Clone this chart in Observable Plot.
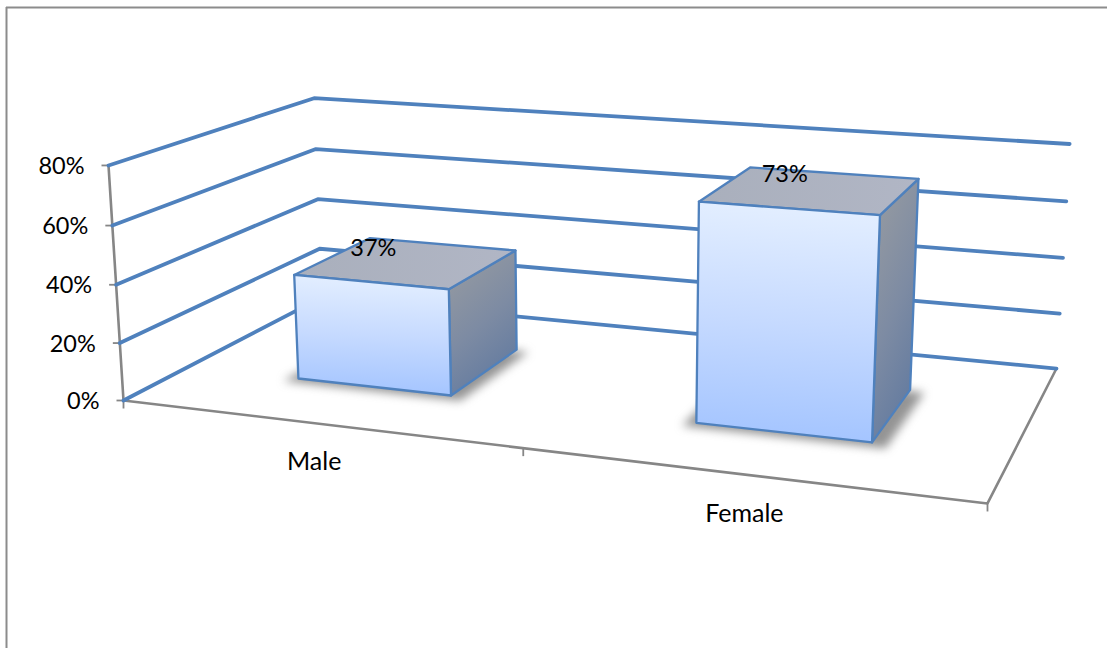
<!DOCTYPE html>
<html>
<head>
<meta charset="utf-8">
<script src="https://cdn.jsdelivr.net/npm/d3@7"></script>
<script src="https://cdn.jsdelivr.net/npm/@observablehq/plot@0.6"></script>
<style>
  html, body { margin: 0; padding: 0; background: #fff; overflow: hidden; }
  svg { display: block; }
  .floor-shadow { filter: blur(5px); }
</style>
</head>
<body>
<div id="chart"></div>
<script>
// Chart values
const categories = ["Male", "Female"];
const shares = [37, 73];
const shareTicks = [0, 20, 40, 60, 80];

// Drawing colours
const gridBlue = "#4f81bd";
const axisGrey = "#868686";
const frameGrey = "#8c8c8c";

// Box footprint on the floor: each category fills half the width, the box 40% of that
const boxHalfWidth = 0.1;
const boxNear = 0.295;
const boxFar = 0.705;
const shareMax = d3.max(shareTicks);

// Perspective camera. u runs along the categories, d into the chart, v up the value axis (0 to 1).
function project(u, d, value) {
  const v = value / shareMax;
  const w = -0.1389 * u + 0.18855 * d - 0.03 * v + 1;
  return [
    (726.9 * u + 258.5 * d - 18.24 * v + 123) / w,
    (33.1 * u - 46.8 * d - 240 * v + 400) / w
  ];
}

// Builds one closed or open outline as rows for a line mark
function outline(key, corners) {
  return corners.map(([u, d, value]) => {
    const [x, y] = project(u, d, value);
    return {key, x, y};
  });
}

// Back-wall gridlines: from the value axis, to the back corner, to the right edge
const gridRows = shareTicks.flatMap((t) =>
  outline(`grid${t}`, [[0, 0, t], [0, 1, t], [1, 1, t]])
);

const axisRows = [
  ...outline("value", [[0, 0, 0], [0, 0, shareMax]]),
  ...outline("floor", [[0, 0, 0], [1, 0, 0], [1, 1, 0]])
];

// Tick marks on the value axis and the category axis
const valueTicks = shareTicks.map((t) => {
  const [x, y] = project(0, 0, t);
  return {t, x, y};
});
const categoryTicks = [0, 0.5, 1].map((u) => {
  const [x, y] = project(u, 0, 0);
  return {x, y};
});

// Faces of each box
const boxes = categories.map((name, i) => {
  const u0 = (i + 0.5) / categories.length - boxHalfWidth;
  const u1 = (i + 0.5) / categories.length + boxHalfWidth;
  const h = shares[i];
  return {name, h, u0, u1};
});
const ring = (pts) => [...pts, pts[0]];
const frontRows = boxes.flatMap(({name, h, u0, u1}) =>
  outline(name, ring([[u0, boxNear, h], [u1, boxNear, h], [u1, boxNear, 0], [u0, boxNear, 0]]))
);
const topRows = boxes.flatMap(({name, h, u0, u1}) =>
  outline(name, ring([[u0, boxNear, h], [u1, boxNear, h], [u1, boxFar, h], [u0, boxFar, h]]))
);
const sideRows = boxes.flatMap(({name, h, u1}) =>
  outline(name, ring([[u1, boxNear, h], [u1, boxFar, h], [u1, boxFar, 0], [u1, boxNear, 0]]))
);
const shadowRows = boxes.flatMap(({name, u0, u1}) =>
  outline(name, ring([
    [u0 - 0.012, boxNear - 0.03, 0],
    [u1 + 0.018, boxNear - 0.03, 0],
    [u1 + 0.018, boxFar - 0.01, 0],
    [u0 - 0.012, boxFar - 0.01, 0]
  ]))
);

// Label anchors; share labels sit slightly toward the middle of the chart
const shareLabels = boxes.map(({h, u0, u1}) => {
  const centre = (u0 + u1) / 2;
  const [x, y] = project(0.5 + (centre - 0.5) * 0.985, boxNear, h);
  return {text: `${h}%`, x, y: y - 34};
});
const categoryLabels = boxes.map(({name, u0, u1}) => {
  const [x, y] = project((u0 + u1) / 2, 0, 0);
  return {text: name, x: x - 2, y: y + 39};
});

// Gradients used by the box faces
function gradients() {
  const defs = d3.create("svg:defs");
  const add = (id, [x1, y1, x2, y2], stops) => {
    const g = defs.append("linearGradient").attr("id", id)
      .attr("x1", x1).attr("y1", y1).attr("x2", x2).attr("y2", y2);
    stops.forEach(([o, c]) => g.append("stop").attr("offset", o).attr("stop-color", c));
  };
  add("frontFace", [0.5, 0, 0.45, 1], [[0, "#e4efff"], [0.5, "#c6daff"], [1, "#a3c4ff"]]);
  add("topFace", [0, 0, 1, 0], [[0, "#a9afbc"], [1, "#b1b6c5"]]);
  add("sideFace", [0.3, 0, 0.7, 1], [[0, "#959aa1"], [0.5, "#7d8ba3"], [1, "#5f789f"]]);
  return defs.node();
}

const faceLine = (rows, fill) =>
  Plot.line(rows, {
    x: "x", y: "y", z: "key", fill, stroke: gridBlue,
    strokeWidth: 2.3, strokeLinejoin: "round", curve: "linear"
  });

const labelFont = {fontFamily: "Lato, sans-serif", fontSize: 23.5, fill: "#000"};

const chart = Plot.plot({
  width: 1107,
  height: 648,
  margin: 0,
  style: {background: "#fff"},
  x: {domain: [0, 1107], range: [0, 1107], axis: null},
  y: {domain: [0, 648], range: [0, 648], axis: null},
  marks: [
    gradients,
    // Outer chart border
    Plot.ruleX([6], {y1: 7, y2: 648, stroke: frameGrey, strokeWidth: 2}),
    Plot.ruleY([7], {x1: 6, x2: 1107, stroke: frameGrey, strokeWidth: 2}),
    // Axes and ticks
    Plot.line(axisRows, {x: "x", y: "y", z: "key", stroke: axisGrey, strokeWidth: 2.6}),
    Plot.link(valueTicks, {
      x1: (d) => d.x - 7, x2: "x", y1: "y", y2: "y", stroke: axisGrey, strokeWidth: 1.8
    }),
    Plot.link(categoryTicks, {
      x1: "x", x2: "x", y1: "y", y2: (d) => d.y + 8, stroke: axisGrey, strokeWidth: 1.8
    }),
    // Gridlines
    Plot.line(gridRows, {
      x: "x", y: "y", z: "key", stroke: gridBlue, strokeWidth: 3.8,
      strokeLinecap: "round", strokeLinejoin: "round"
    }),
    // Boxes
    Plot.line(shadowRows, {
      x: "x", y: "y", z: "key", fill: "#666", fillOpacity: 0.7, stroke: "none", className: "floor-shadow"
    }),
    faceLine(sideRows, "url(#sideFace)"),
    faceLine(topRows, "url(#topFace)"),
    faceLine(frontRows, "url(#frontFace)"),
    // Labels
    Plot.text(valueTicks, {
      x: (d) => d.x - 24, y: (d) => d.y + 1, text: (d) => `${d.t}%`,
      textAnchor: "end", ...labelFont
    }),
    Plot.text(shareLabels, {x: "x", y: "y", text: "text", ...labelFont}),
    Plot.text(categoryLabels, {x: "x", y: "y", text: "text", ...labelFont, fontSize: 25})
  ]
});
document.getElementById("chart").append(chart);
</script>
</body>
</html>
